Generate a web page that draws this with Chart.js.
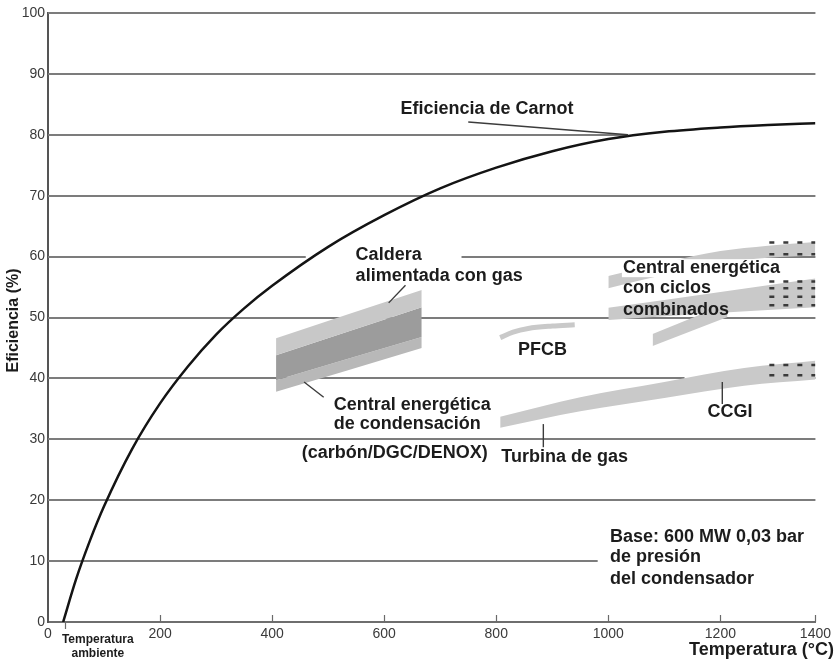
<!DOCTYPE html>
<html>
<head>
<meta charset="utf-8">
<script src="https://cdn.jsdelivr.net/npm/chart.js@4/dist/chart.umd.min.js"></script>
<style>
  html, body { margin: 0; padding: 0; background: #fff; }
  #wrap { width: 835px; height: 661px; position: relative; }
</style>
</head>
<body>
<div id="wrap"><canvas id="c" width="835" height="661"></canvas></div>
<script>
// ---------------- data ----------------
const tempTicks = [0, 200, 400, 600, 800, 1000, 1200, 1400];   // °C
const effTicks  = [0, 10, 20, 30, 40, 50, 60, 70, 80, 90, 100]; // %

// Carnot efficiency curve
const carnotTemp = [27, 50, 75, 100, 150, 200, 250, 300, 350, 400, 500, 600, 700, 800, 900, 1000, 1100, 1200, 1300, 1400];
const carnotEff  = [0, 7.0, 13.4, 19.0, 28.4, 35.9, 42.0, 47.2, 51.5, 55.2, 61.6, 66.8, 71.2, 74.6, 77.3, 79.3, 80.5, 81.2, 81.6, 81.9];

// Condensing power plant block (gas boiler on top, coal plant below)
const condTemp        = [407, 667];
const gasBoilerTop    = [46.6, 54.5];
const gasBoilerBottom = [43.8, 51.7];
const coalBottom      = [39.7, 46.8];
const coalLowerEdge   = [37.8, 45.0];

// PFCB
const pfcbTemp = [807, 830, 857, 900, 940];
const pfcbEff  = [46.7, 47.6, 48.2, 48.6, 48.8];

// Gas turbine / CCGI
const turbineTemp   = [807, 950, 1100, 1250, 1400];
const turbineTop    = [33.7, 36.9, 39.4, 41.7, 42.9];
const turbineBottom = [31.9, 34.6, 36.8, 38.8, 39.8];

// Combined cycle plants
const ccUpperTemp   = [1000, 1100, 1200, 1300, 1400];
const ccUpperTop    = [56.8, 59.0, 60.9, 61.8, 62.4];
const ccUpperBottom = [54.8, 57.0, 58.9, 59.8, 60.2];
const ccMidTemp     = [1000, 1200, 1400];
const ccMidTop      = [51.6, 54.2, 56.4];
const ccMidBottom   = [49.6, 50.8, 51.7];
const ccLowTemp     = [1079, 1215];
const ccLowTop      = [47.3, 52.3];
const ccLowBottom   = [45.3, 50.1];

// Projected ranges (dashed)
const futureTemp     = [1303, 1400];
const ccgiFuture     = [42.2, 40.5];
const ccUpperFuture  = [62.3, 60.4];
const ccMidFuture    = [55.9, 54.8, 53.4, 52.0];

// Horizontal reference lines: [efficiency, from °C, to °C]
const gridRuns = [
  [100, 0, 1400], [90, 0, 1400], [80, 0, 1035], [70, 0, 1400],
  [60, 0, 460], [60, 738, 1400], [50, 0, 1400],
  [40, 0, 1136], [40, 1263, 1400], [30, 0, 1400], [20, 0, 1400], [10, 0, 981]
];

// Annotation texts, anchored in data units (left edge, vertical centre)
const notes = [
  { text: 'Eficiencia de Carnot', t: 629, e: 84.2 },
  { text: 'Caldera', t: 549, e: 60.3 },
  { text: 'alimentada con gas', t: 549, e: 56.8 },
  { text: 'Central energética', t: 510, e: 35.6 },
  { text: 'de condensación', t: 510, e: 32.5 },
  { text: '(carbón/DGC/DENOX)', t: 453, e: 27.7 },
  { text: 'Turbina de gas', t: 809, e: 27.1 },
  { text: 'PFCB', t: 839, e: 44.7 },
  { text: 'CCGI', t: 1177, e: 34.5 },
  { text: 'Central energética', t: 1026, e: 58.1, knockout: true },
  { text: 'con ciclos', t: 1026, e: 54.8 },
  { text: 'combinados', t: 1026, e: 51.2 },
  { text: 'Base: 600 MW 0,03 bar', t: 1003, e: 14.0 },
  { text: 'de presión', t: 1003, e: 10.7 },
  { text: 'del condensador', t: 1003, e: 7.1 }
];

// Leader lines: [[°C, %], [°C, %]]
const leaders = [
  [[750, 82.1], [1035, 80.0]],
  [[608, 52.4], [638, 55.3]],
  [[457, 39.4], [492, 36.9]],
  [[884, 32.5], [884, 28.7]],
  [[1204, 39.4], [1204, 35.8]]
];

const ambientTemp = 30;

// ---------------- temperature scale ----------------
// The temperature axis is drawn compressed above 1200 °C.
const BREAK = 1200, TAIL = 0.848;
const warp = v => v <= BREAK ? v : BREAK + (v - BREAK) * TAIL;
const unwarp = w => w <= BREAK ? w : BREAK + (w - BREAK) / TAIL;
const BaseLinear = Chart.LinearScale || Chart.registry.getScale('linear');
class WarpedScale extends BaseLinear {
  getPixelForValue(value) {
    if (value === null || value === undefined) return NaN;
    const a = warp(this.min), b = warp(this.max);
    return this.getPixelForDecimal((warp(value) - a) / (b - a));
  }
  getValueForPixel(pixel) {
    const a = warp(this.min), b = warp(this.max);
    return unwarp(a + this.getDecimalForPixel(pixel) * (b - a));
  }
}
WarpedScale.id = 'warped';
WarpedScale.defaults = BaseLinear.defaults;
Chart.register(WarpedScale);

// ---------------- datasets ----------------
const pts = (xs, ys) => xs.map((t, i) => ({ x: t, y: ys[i] }));
const edge = (xs, ys) => ({ data: pts(xs, ys), borderWidth: 0, pointRadius: 0, fill: false, cubicInterpolationMode: 'monotone' });
const band = (xs, ys, color) => ({ data: pts(xs, ys), borderWidth: 0, pointRadius: 0, fill: '-1', backgroundColor: color, cubicInterpolationMode: 'monotone' });
const dashed = (xs, level) => ({
  data: pts(xs, xs.map(() => level)), borderColor: '#3a3a3a', borderWidth: 2.5,
  borderDash: [5, 9], pointRadius: 0, fill: false, tension: 0
});

const datasets = [
  { label: 'Eficiencia de Carnot', data: pts(carnotTemp, carnotEff), borderColor: '#141414',
    borderWidth: 2.5, pointRadius: 0, fill: false, cubicInterpolationMode: 'monotone' },
  dashed(futureTemp, ccgiFuture[0]), dashed(futureTemp, ccgiFuture[1]),
  dashed(futureTemp, ccUpperFuture[0]), dashed(futureTemp, ccUpperFuture[1]),
  ...ccMidFuture.map(v => dashed(futureTemp, v)),
  { label: 'PFCB', data: pts(pfcbTemp, pfcbEff), borderColor: '#c9c9c9', borderWidth: 5,
    pointRadius: 0, fill: false, cubicInterpolationMode: 'monotone' },
  edge(condTemp, gasBoilerTop),
  band(condTemp, gasBoilerBottom, '#c8c8c8'),
  band(condTemp, coalBottom, '#9c9c9c'),
  band(condTemp, coalLowerEdge, '#b8b8b8'),
  edge(turbineTemp, turbineTop),
  band(turbineTemp, turbineBottom, '#c9c9c9'),
  edge(ccUpperTemp, ccUpperTop),
  band(ccUpperTemp, ccUpperBottom, '#c9c9c9'),
  edge(ccMidTemp, ccMidTop),
  band(ccMidTemp, ccMidBottom, '#c9c9c9'),
  edge(ccLowTemp, ccLowTop),
  band(ccLowTemp, ccLowBottom, '#c9c9c9')
];

// ---------------- drawing helpers ----------------
const FONT = "'Liberation Sans', Arial, Helvetica, sans-serif";

const decorations = {
  id: 'decorations',
  beforeDatasetsDraw(chart) {
    const { ctx, scales: { x, y } } = chart;
    ctx.save();
    ctx.strokeStyle = '#7c7c7c';
    ctx.lineWidth = 2;
    gridRuns.forEach(([v, a, b]) => {
      const py = Math.round(y.getPixelForValue(v));
      ctx.beginPath();
      ctx.moveTo(x.getPixelForValue(a), py);
      ctx.lineTo(x.getPixelForValue(b), py);
      ctx.stroke();
    });
    // inward tick marks on the temperature axis
    const base = y.getPixelForValue(0);
    ctx.strokeStyle = '#6a6a6a';
    ctx.lineWidth = 1.2;
    tempTicks.slice(1).forEach(t => {
      const px = Math.round(x.getPixelForValue(t)) + 0.5;
      ctx.beginPath(); ctx.moveTo(px, base); ctx.lineTo(px, base - 7); ctx.stroke();
    });
    const pa = Math.round(x.getPixelForValue(ambientTemp)) + 0.5;
    ctx.beginPath(); ctx.moveTo(pa, base); ctx.lineTo(pa, base + 7); ctx.stroke();
    ctx.restore();
  },
  afterDatasetsDraw(chart) {
    const { ctx, scales: { x, y } } = chart;
    ctx.save();
    // leader lines
    ctx.strokeStyle = '#3c3c3c';
    ctx.lineWidth = 1.4;
    leaders.forEach(([p, q]) => {
      ctx.beginPath();
      ctx.moveTo(x.getPixelForValue(p[0]), y.getPixelForValue(p[1]));
      ctx.lineTo(x.getPixelForValue(q[0]), y.getPixelForValue(q[1]));
      ctx.stroke();
    });
    // annotation texts
    ctx.font = 'bold 18px ' + FONT;
    ctx.textBaseline = 'middle';
    ctx.textAlign = 'left';
    notes.forEach(n => {
      const px = x.getPixelForValue(n.t), py = y.getPixelForValue(n.e);
      if (n.knockout) {
        const w = ctx.measureText(n.text).width;
        ctx.fillStyle = '#ffffff';
        ctx.fillRect(px - 1, py - 9, w + 2, 18);
      }
      ctx.fillStyle = '#1c1c1c';
      ctx.fillText(n.text, px, py);
    });
    ctx.restore();
  },
  afterDraw(chart) {
    const { ctx, chartArea, scales: { x } } = chart;
    ctx.save();
    ctx.fillStyle = '#1c1c1c';
    ctx.font = 'bold 18px ' + FONT;
    ctx.textAlign = 'right';
    ctx.textBaseline = 'middle';
    ctx.fillText('Temperatura (°C)', 834, 650);
    ctx.save();
    ctx.translate(14, (chartArea.top + chartArea.bottom) / 2 + 3);
    ctx.rotate(-Math.PI / 2);
    ctx.textAlign = 'center';
    ctx.font = 'bold 16px ' + FONT;
    ctx.fillText('Eficiencia (%)', 0, 0);
    ctx.restore();
    // ambient temperature marker text
    ctx.font = 'bold 12px ' + FONT;
    ctx.textAlign = 'center';
    const ax = x.getPixelForValue(ambientTemp) + 33;
    ctx.fillText('Temperatura', ax, 640);
    ctx.fillText('ambiente', ax, 654);
    ctx.restore();
  }
};

new Chart(document.getElementById('c'), {
  type: 'line',
  data: { datasets },
  plugins: [decorations],
  options: {
    responsive: false,
    animation: false,
    devicePixelRatio: 1,
    events: [],
    layout: { padding: { top: 13, right: 17, left: 0, bottom: 0 } },
    plugins: { legend: { display: false }, tooltip: { enabled: false } },
    scales: {
      x: {
        type: 'warped',
        min: tempTicks[0],
        max: tempTicks[tempTicks.length - 1],
        afterBuildTicks: s => { s.ticks = tempTicks.map(v => ({ value: v })); },
        grid: { display: false, drawTicks: false },
        border: { display: true, color: '#6e6e6e', width: 2 },
        ticks: { color: '#3a3a3a', font: { family: FONT, size: 14 }, padding: 4, maxRotation: 0,
                 autoSkip: false, callback: v => String(v) },
        afterFit: s => { s.height = 39; }
      },
      y: {
        type: 'linear',
        min: effTicks[0],
        max: effTicks[effTicks.length - 1],
        afterBuildTicks: s => { s.ticks = effTicks.map(v => ({ value: v })); },
        grid: { display: false, drawTicks: false },
        border: { display: true, color: '#555555', width: 2 },
        ticks: { color: '#3a3a3a', font: { family: FONT, size: 14 }, padding: 3, callback: v => String(v) },
        afterFit: s => { s.width = 48; }
      }
    }
  }
});
</script>
</body>
</html>
